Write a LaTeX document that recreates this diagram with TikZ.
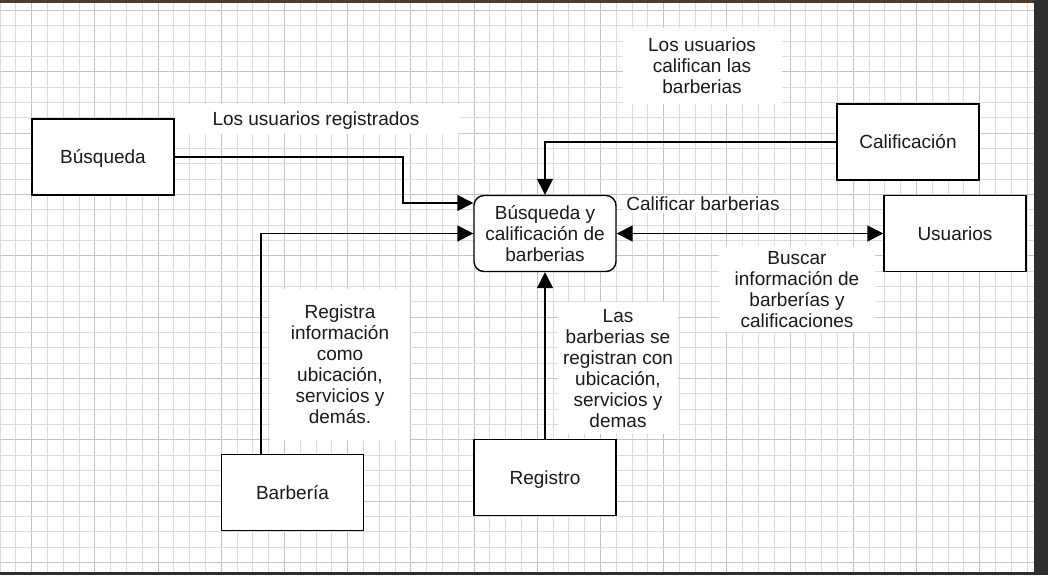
\documentclass[tikz,border=0pt]{standalone}
\usepackage{fontspec}
\setmainfont{Liberation Sans}
\usetikzlibrary{arrows.meta}
\definecolor{gridminor}{HTML}{DCDCDC}
\definecolor{gridmajor}{HTML}{C4C4C4}
\definecolor{topbar}{HTML}{4B3A30}
\definecolor{sidebar}{HTML}{2F2F2F}
\definecolor{txt}{HTML}{1A1A1A}
\tikzset{
  box/.style={draw=black, line width=1.4pt, fill=white, minimum width=142pt, minimum height=76pt, inner sep=0pt, text=txt, font=\fontsize{19}{21}\selectfont, align=center, text depth=0pt},
  rbox/.style={box, rounded corners=10pt},
  lab/.style={fill=white, inner sep=0pt, text=txt, font=\fontsize{19}{21}\selectfont, align=center, text depth=0pt},
  conn/.style={line width=1.4pt, draw=black},
  tip/.style={-{Triangle[length=16pt,width=16pt]}},
}
\begin{document}
\begin{tikzpicture}[x=1pt,y=-1pt]
\useasboundingbox (0,0) rectangle (1048,575);
\fill[white] (0,0) rectangle (1048,575);
% grid
\foreach \n in {0,...,65} {
  \pgfmathtruncatemacro{\m}{mod(\n,4)}
  \ifnum\m=2
    \draw[gridmajor, line width=0.8pt] (15.8*\n,0) -- (15.8*\n,572);
  \else
    \draw[gridminor, line width=0.8pt] (15.8*\n,0) -- (15.8*\n,572);
  \fi
}
\foreach \k in {0,...,36} {
  \pgfmathtruncatemacro{\m}{mod(\k,4)}
  \ifnum\m=0
    \draw[gridmajor, line width=0.8pt] (0,10.4+15.33*\k) -- (1034,10.4+15.33*\k);
  \else
    \draw[gridminor, line width=0.8pt] (0,10.4+15.33*\k) -- (1034,10.4+15.33*\k);
  \fi
}
% frame of the screenshot
\fill[topbar] (0,0) rectangle (1048,3.5);
\fill[sidebar] (1034,0) rectangle (1048,575);
\fill[sidebar] (0,572) rectangle (1048,575);

% labels
\node[lab, minimum width=285pt, minimum height=30pt] (l1) at (316,119) {Los usuarios registrados};
\node[lab, minimum width=159pt, minimum height=76pt] (l2) at (702,66) {Los usuarios\\califican las\\barberias};
\node[lab, inner sep=2pt] (l3) at (703,204) {Calificar barberias};
\node[lab, minimum width=156pt, minimum height=86pt] (l4) at (797,289) {Buscar\\información de\\barberías y\\calificaciones};
\node[lab, minimum width=140pt, minimum height=151pt] (l5) at (340,364) {Registra\\información\\como\\ubicación,\\servicios y\\demás.};
\node[lab, minimum width=120pt, minimum height=132pt] (l6) at (618,368) {Las\\barberias se\\registran con\\ubicación,\\servicios y\\demas};

% nodes
\node[box] (busq) at (103,157) {Búsqueda};
\node[box] (calif) at (908,142) {Calificación};
\node[box] (usu) at (955,233.5) {Usuarios};
\node[box] (barb) at (292.5,492.5) {Barbería};
\node[box] (reg) at (545,477.5) {Registro};
\node[rbox] (cen) at (545,233.5) {Búsqueda y\\calificación de\\barberias};

% connectors
\coordinate (c1a) at (403,157);
\coordinate (c1b) at (403,203);
\draw[conn, tip] (busq.east |- c1a) -- (c1a) -- (c1b) -- (cen.west |- c1b);
\coordinate (c2a) at (261,233.5);
\draw[conn, tip] (barb.north -| c2a) -- (c2a) -- (cen.west);
\draw[conn, tip] (calif.west) -- (cen.north |- calif.west) -- (cen.north);
\draw[conn, tip] (reg.north) -- (cen.south);
\draw[conn, {Triangle[length=16pt,width=16pt]}-{Triangle[length=16pt,width=16pt]}] (cen.east) -- (usu.west);
\end{tikzpicture}
\end{document}
